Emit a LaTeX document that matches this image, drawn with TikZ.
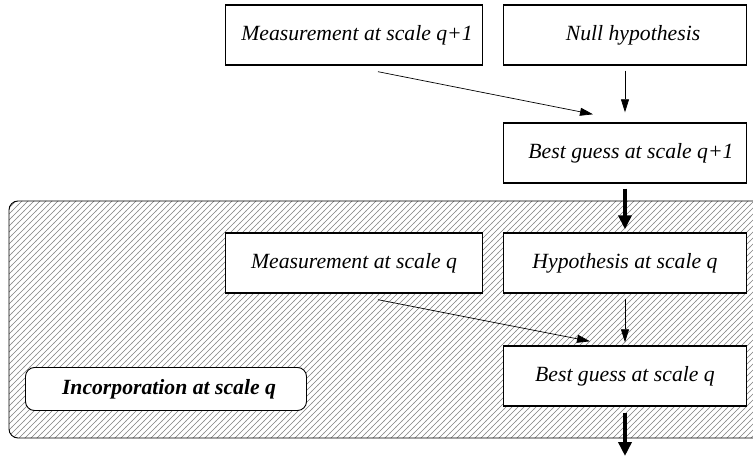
\documentclass[tikz,border=0pt]{standalone}
\usepackage{fontspec}
\setmainfont{Liberation Serif}
\usetikzlibrary{arrows.meta,patterns}
\pgfdeclarepatternformonly{hatchne}{\pgfqpoint{-1pt}{-1pt}}{\pgfqpoint{7pt}{7pt}}{\pgfqpoint{6pt}{6pt}}{%
  \pgfsetlinewidth{0.5pt}%
  \pgfpathmoveto{\pgfqpoint{-0.1pt}{-0.1pt}}%
  \pgfpathlineto{\pgfqpoint{6.1pt}{6.1pt}}%
  \pgfusepath{stroke}}
\begin{document}
\begin{tikzpicture}[x=1pt,y=-1pt,
  txt/.style={font=\fontsize{21.7}{26}\selectfont\itshape},
  box/.style={txt,draw,line width=1.4pt,fill=white,minimum height=60pt,inner sep=0pt},
  leftbox/.style={box,minimum width=257pt},
  rightbox/.style={box,minimum width=243pt},
  thinarrow/.style={line width=0.7pt,-{Triangle[length=13pt,width=8pt]}},
  thickarrow/.style={line width=3.5pt,-{Triangle[length=14pt,width=13pt]}},
  region/.style={draw,line width=0.9pt,rounded corners=9pt,
    pattern=hatchne,pattern color=gray},
  labelbox/.style={draw,line width=0.9pt,rounded corners=9pt,fill=white,
    minimum width=281pt,minimum height=43pt,inner sep=0pt,
    font=\fontsize{21.7}{26}\selectfont\bfseries\itshape}]
\useasboundingbox (0,0) rectangle (753,457);
\fill[white] (0,0) rectangle (753,457);
% hatched region
\path[region] (9,201) rectangle (768,438);
% top row
\node[leftbox]  (m1) at (354,35) {\hspace{6pt}Measurement at scale q+1};
\node[rightbox] (n)  at (625,35) {\hspace{16pt}Null hypothesis};
\node[rightbox] (b1) at (625,153) {\hspace{12pt}Best guess at scale q+1};
% inner row
\node[leftbox]  (m2) at (354,263) {Measurement at scale q};
\node[rightbox] (h)  at (625,263) {Hypothesis at scale q};
\node[rightbox] (b2) at (625,376) {Best guess at scale q};
\node[labelbox] (inc) at (166,389) {\hspace{6pt}Incorporation at scale q};
\coordinate (out) at (625,456);
% connectors
\draw[thinarrow] ([xshift=24pt,yshift=-6pt]m1.south) -- ([xshift=-32pt,yshift=8pt]b1.north);
\draw[thinarrow] ([yshift=-5pt]n.south) -- ([yshift=10pt]b1.north);
\draw[thickarrow] ([yshift=-5pt]b1.south) -- ([yshift=3pt]h.north);
\draw[thinarrow] ([xshift=24pt,yshift=-6pt]m2.south) -- ([xshift=-35pt,yshift=4pt]b2.north);
\draw[thinarrow] ([yshift=-5pt]h.south) -- ([yshift=3pt]b2.north);
\draw[thickarrow] ([yshift=-6pt]b2.south) -- (out);
\end{tikzpicture}
\end{document}
